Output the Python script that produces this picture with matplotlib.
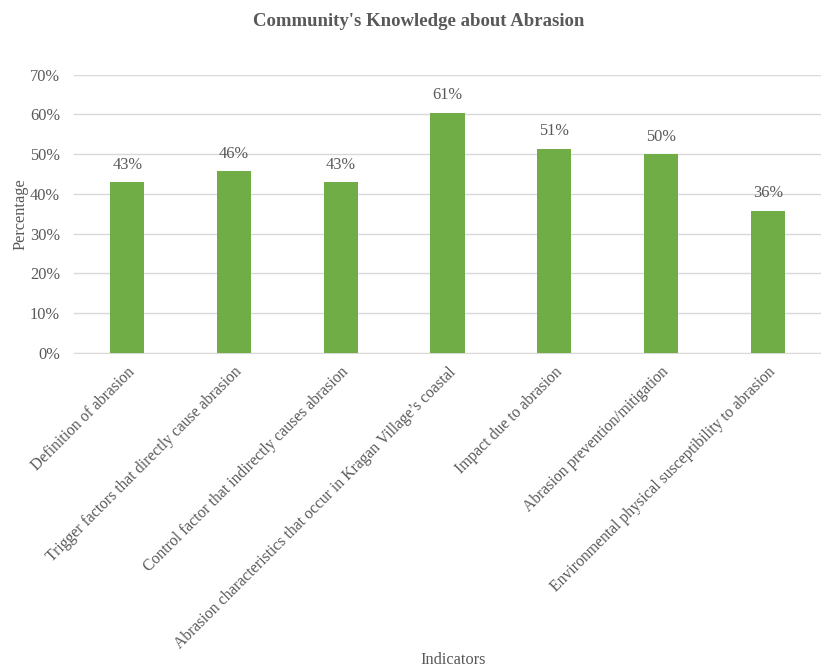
import matplotlib
matplotlib.use("Agg")
from matplotlib import pyplot as plt
import numpy as np

# data
indicators = [
    "Definition of abrasion",
    "Trigger factors that directly cause abrasion",
    "Control factor that indirectly causes abrasion",
    "Abrasion characteristics that occur in Kragan Village\u2019s coastal",
    "Impact due to abrasion",
    "Abrasion prevention/mitigation",
    "Environmental physical susceptibility to abrasion",
]
percent = [42.9, 45.7, 42.9, 60.5, 51.3, 50.0, 35.8]
value_labels = ["43%", "46%", "43%", "61%", "51%", "50%", "36%"]
y_ticks = [0, 10, 20, 30, 40, 50, 60, 70]

GREY = "#595959"
FS = 11.3
plt.rcParams.update({"font.family": ["Liberation Serif", "DejaVu Serif"]})

Figure = plt.figure(figsize=(8.21, 6.68), dpi=100)
Graph = Figure.add_axes([0.090, 0.4716, 0.91, 0.4165])

x = np.arange(len(indicators))
bars = Graph.bar(x, percent, width=0.32, color="#70AD47", zorder=3)

for b, lab in zip(bars, value_labels):
    Graph.annotate(lab, (b.get_x() + b.get_width() / 2, b.get_height()),
                   xytext=(0, 7), textcoords="offset points",
                   ha="center", va="bottom", fontsize=FS + 0.5, color=GREY)

Graph.set_xlim(-0.5, len(indicators) - 0.5)
Graph.set_ylim(0, 70)
Graph.set_yticks(y_ticks)
Graph.set_yticklabels([f"{t}%" for t in y_ticks], fontsize=FS + 0.5, color=GREY)
Graph.set_xticks(x)
Graph.set_xticklabels(indicators, rotation=45, ha="right", va="top",
                      rotation_mode="anchor", fontsize=FS, color=GREY)
Graph.tick_params(axis="both", length=0)
Graph.tick_params(axis="y", pad=10)
Graph.tick_params(axis="x", pad=8)

Graph.yaxis.grid(color="#d9d9d9", linewidth=1, zorder=0)
for s in ["top", "right", "left"]:
    Graph.spines[s].set_visible(False)
Graph.spines["bottom"].set_color("#d9d9d9")

Graph.set_ylabel("Percentage", fontsize=FS + 0.5, color=GREY, labelpad=1)
Figure.text(0.552, 0.0, "Indicators", ha="center", va="bottom",
            fontsize=FS + 0.5, color=GREY)
Figure.text(0.51, 0.968, "Community's Knowledge about Abrasion", ha="center",
            va="center", fontsize=13.5, fontweight="bold", color=GREY)

Figure.savefig("out.png", dpi=100)
